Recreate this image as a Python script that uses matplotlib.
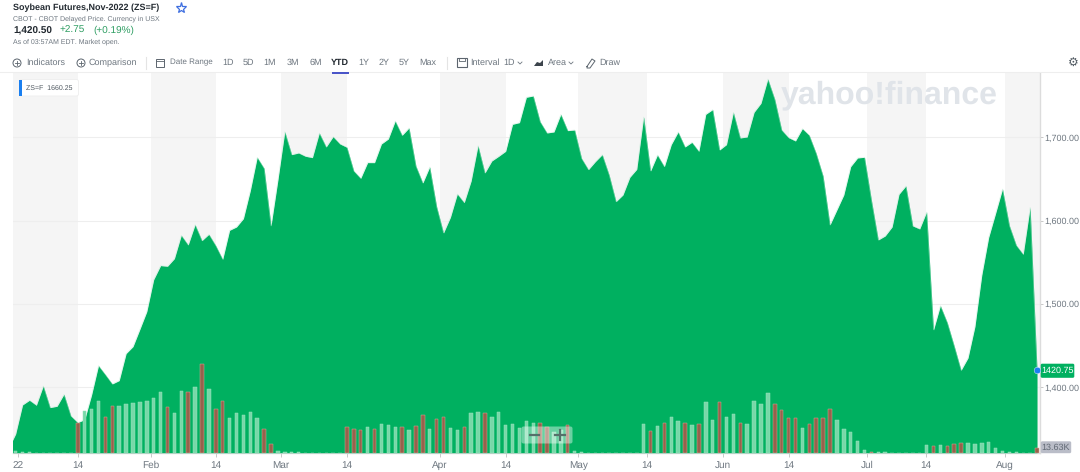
import matplotlib
matplotlib.use("Agg")
import matplotlib.pyplot as plt
from matplotlib.patches import Rectangle, FancyBboxPatch, Circle
import numpy as np

plt.rcParams['font.family'] = ['Liberation Sans', 'DejaVu Sans']
plt.rcParams['text.hinting'] = 'no_hinting'
plt.rcParams['text.hinting_factor'] = 1

price = [1327, 1344, 1378.8, 1384.4, 1378.4, 1401.6, 1375.6, 1377.2, 1391.6, 1365.6, 1357.6, 1361.2, 1390.8, 1426, 1415.2, 1404,
         1408, 1440.4, 1448.8, 1469.6, 1490.8, 1529.2, 1546, 1545.2, 1554.4, 1582.4, 1570.8, 1595.2, 1576, 1583.6, 1570, 1553.6,
         1588.4, 1592.4, 1602.4, 1636, 1676, 1662.8,
         1593.6, 1648.8, 1706.8, 1679.2, 1681.2, 1677.2, 1675.6, 1705.2, 1688.4, 1700.8, 1692, 1688, 1659.6, 1650.8, 1669.6, 1669.6,
         1692, 1698, 1719.6, 1702.4, 1711.2, 1665.6, 1645.2, 1664.4, 1616.8, 1585.2, 1604, 1632, 1621.6, 1647.6, 1690, 1657.2,
         1671.6, 1677.2, 1683.2, 1715.6, 1717.6, 1748,
         1749.6, 1718.8, 1705.2, 1706.4, 1727.6, 1708, 1708.8, 1674.8, 1661.2, 1670.8, 1679.2, 1654.8, 1622.8, 1630.8, 1652, 1661.6,
         1724.4, 1659.6, 1678.8, 1664.8, 1691.2, 1706.4, 1688.4, 1694, 1683.2, 1727.6, 1733.2, 1684.8, 1691.2, 1730, 1699.2, 1700.4,
         1730, 1740.8, 1770, 1745.6, 1708.8, 1699.6,
         1695.6, 1710.4, 1702.4, 1680.8, 1653.6, 1594.8, 1612.8, 1630.8, 1664.8, 1675.2, 1676, 1624.8, 1576.8, 1581.6, 1592.4, 1631.6,
         1641.6, 1593.6, 1590, 1610.4, 1468.8, 1498, 1477.6, 1449.6, 1420.4, 1435.2, 1472.8, 1534.8, 1580, 1608.8, 1638, 1594,
         1570.4, 1559.6, 1616, 1420.75]

volume = [0, 4.2, 2, 2, 0, 0, 0, 0, 0, 0,
          92.4, 132, 136.5, 164, 113, 147, 147, 152, 157.5, 158.5,
          162, 171, 192, 145, 126, 193, 191, 208, 279, 202,
          136.5, 162, 109, 124, 119, 127, 108, 74.5, 26, 5,
          2, 2, 2, 0, 0, 0, 0, 0, 0, 80,
          76, 71, 81, 75, 89, 87, 81, 80, 70, 83,
          118, 75, 105, 111, 77, 71, 81, 125, 128, 124,
          114, 128, 86, 89, 78, 99, 93, 92, 82, 65,
          71, 87, 4, 2, 0, 0, 0, 0, 0, 0,
          0, 0, 89, 69, 83, 92, 111, 100, 94.5, 86,
          89, 158.5, 102, 158.5, 114, 121, 94.5, 89, 162, 152,
          187, 152, 135, 108, 110, 77, 91, 108, 110, 139,
          102, 75, 64, 37, 7, 3, 1, 1, 0, 0,
          0, 0, 0, 25, 22, 23, 20, 26, 29, 29,
          27, 31.5, 32.5, 16, 4, 2, 2, 0, 0, 13.63]

down_days = [10, 14, 15, 23, 26, 28, 30, 31, 37, 38, 49, 50, 51, 53, 57, 59, 60, 62, 63, 66, 69, 77, 78, 81,
             93, 95, 98, 100, 103, 106, 111, 112, 113, 114, 116, 117, 118, 119, 125, 134, 136, 137, 138, 149]

x_tick_pos = [1.3, 10.03, 20.57, 30.03, 39.45, 49.0, 62.5, 72.0, 82.5, 92.5, 103.5, 113.07, 124.4, 132.9, 144.4]
x_tick_labels = ['22', '14', 'Feb', '14', 'Mar', '14', 'Apr', '14', 'May', '14', 'Jun', '14', 'Jul', '14', 'Aug']
y_ticks = [1400, 1500, 1600, 1700]
y_tick_labels = ['1,400.00', '1,500.00', '1,600.00', '1,700.00']

W, H = 1080, 472
GREEN = '#00b060'
GRAY = '#6e7780'
DARK = '#232a31'

fig = plt.figure(figsize=(W / 100, H / 100), dpi=100, facecolor='white')
L, R, T, B = 13, 1040, 73, 452.7
ax = fig.add_axes([L / W, 1 - B / H, (R - L) / W, (B - T) / H])
ax.set_xlim(0.61, 149.43)
ax.set_ylim(1321.5, 1777.2)

# volume axes share the frame; created first so the price axis keeps its right-hand ticks
axv = ax.twinx()
axv.set_ylim(0, 1196)
axv.axis('off')

# alternating shaded periods
edges = [x_tick_pos[0] - 1] + x_tick_pos[1:] + [149.43]
for k in range(0, len(edges) - 1, 2):
    ax.axvspan(edges[k], edges[k + 1], color='#f5f5f5', lw=0, zorder=0)

ax.grid(axis='y', color='#eeeeee', lw=0.8, zorder=1)
days = np.arange(len(price))
ax.fill_between(days, price, 1321.5, color=GREEN, lw=0, zorder=3)
ax.plot(days, price, color='#b8ead0', lw=0.4, zorder=3, alpha=.6)

for s in ['top', 'left']:
    ax.spines[s].set_visible(False)
    axv.spines[s].set_visible(False)
for s in ['bottom', 'right']:
    ax.spines[s].set_color('#dcdcdc')
    ax.spines[s].set_linewidth(1.0)
ax.yaxis.tick_right()
ax.set_yticks(y_ticks, y_tick_labels, fontsize=6.6, color='#6e7780')
ax.tick_params(axis='y', length=2, width=0.7, color='#c8c8c8', pad=1)
ax.set_xticks(x_tick_pos, x_tick_labels, fontsize=6.9, color='#6e7780')
ax.tick_params(axis='x', length=3, width=0.7, color='#c8c8c8', pad=3)
ax.set_axisbelow(True)

# volume bars
colors = ['#96624c' if i in down_days else '#78d8a8' for i in days]
edgecs = ['#d9a796' if i in down_days else '#98e2bd' for i in days]
axv.bar(days, volume, width=0.5, color=colors, edgecolor=edgecs, linewidth=0.35, zorder=4)

# interface overlay in pixel coordinates
ov = fig.add_axes([0, 0, 1, 1], facecolor='none')
ov.set_xlim(0, W)
ov.set_ylim(H, 0)
ov.axis('off')
ov.set_zorder(5)


def t(x, y, s, size=6.2, color=GRAY, weight='normal', ha='left', zorder=5):
    ov.text(x, y, s, fontsize=size, color=color, fontweight=weight, ha=ha, va='center', zorder=zorder)


t(13, 8, 'Soybean Futures,Nov-2022 (ZS=F)', 6.8, DARK, 'bold')
ov.plot([181], [8], marker='*', ms=8, mfc='none', mec='#3f6fe0', mew=0.9)
t(13, 18.5, 'CBOT - CBOT Delayed Price. Currency in USX', 4.95, GRAY)
t(13, 30.5, '1,420.50', 7.4, DARK, 'bold')
t(59.5, 30.5, '+2.75', 7.2, '#2f9e63')
t(93, 30.5, '(+0.19%)', 7.2, '#2f9e63')
t(13, 41.5, 'As of 03:57AM EDT. Market open.', 5.1, GRAY)


def circ_plus(x, y):
    ov.add_patch(Circle((x, y), 4, fc='none', ec='#5c656e', lw=0.7))
    ov.plot([x - 2, x + 2], [y, y], color='#5c656e', lw=0.6)
    ov.plot([x, x], [y - 2, y + 2], color='#5c656e', lw=0.6)


circ_plus(17, 63)
t(26, 62.7, 'Indicators')
circ_plus(81, 63)
t(89, 62.7, 'Comparison')
ov.plot([145.5, 145.5], [57, 69], color='#e4e4e4', lw=0.8)
ov.add_patch(Rectangle((156, 58.5), 8, 8, fc='none', ec='#5c656e', lw=0.7))
ov.plot([156, 164], [61, 61], color='#5c656e', lw=0.6)
t(169.5, 62.7, 'Date Range', 5.9)
for lab, xc in zip(['1D', '5D', '1M', '3M', '6M'], [227.6, 248.6, 270, 293, 315.5]):
    t(xc, 62.7, lab, ha='center')
t(340, 62.7, 'YTD', 6.2, DARK, 'bold', ha='center')
ov.add_patch(Rectangle((332, 72.3), 17, 1.5, fc='#4a55c8', ec='none', zorder=6))
for lab, xc in zip(['1Y', '2Y', '5Y', 'Max'], [363.5, 384, 404, 427.6]):
    t(xc, 62.7, lab, ha='center')
ov.plot([447, 447], [57, 69], color='#e4e4e4', lw=0.8)
ov.add_patch(Rectangle((457, 58), 10, 9, fc='none', ec='#5c656e', lw=0.8))
ov.plot([459, 459, 462, 462, 465, 465], [58, 60.5, 60.5, 60.5, 60.5, 58], color='#5c656e', lw=0.6)
t(470.5, 62.7, 'Interval')
t(509.5, 62.7, '1D', ha='center')
ov.plot([518, 520, 522], [62, 64, 62], color=GRAY, lw=0.6)
ov.fill([534, 537, 540, 543, 543, 534], [66, 62, 63, 60, 66, 66], color='#3c444c', lw=0)
t(548, 62.7, 'Area')
ov.plot([569, 571, 573], [62, 64, 62], color=GRAY, lw=0.6)
ov.plot([587, 592, 595, 590, 587, 587], [66.5, 59, 61, 68, 68, 66.5], color='#5c656e', lw=0.7)
t(599.5, 62.7, 'Draw')
t(1073, 62.7, '\u2699', 8.5, '#4f5860', ha='center')
ov.plot([0, W], [72.3, 72.3], color='#eeeeee', lw=0.8, zorder=1)

# watermark
t(781, 95, 'yahoo!finance', 22.9, '#e0e4e9', 'bold', zorder=1)

# legend chip
ov.add_patch(FancyBboxPatch((20, 80), 58, 15.5, boxstyle='round,pad=0.5,rounding_size=2', fc='white', ec='#eeeeee', lw=0.6))
ov.add_patch(Rectangle((19, 79.5), 2.5, 16.5, fc='#1a7ff0', ec='none', zorder=4))
t(25.5, 87.8, 'ZS=F  1660.25', 5.4, '#4f5860')

# zoom widget
ov.add_patch(FancyBboxPatch((522, 427), 50, 16, boxstyle='round,pad=0.5,rounding_size=2', fc='white', ec='none', alpha=.42))
ov.plot([530, 539], [435, 435], color='#55706a', lw=1.6)
ov.plot([555, 565], [435, 435], color='#55706a', lw=1.6)
ov.plot([560, 560], [430, 440], color='#55706a', lw=1.6)

# last price tags
ov.add_patch(FancyBboxPatch((1041, 364), 33, 13.5, boxstyle='round,pad=0.3,rounding_size=1.5', fc=GREEN, ec='none'))
t(1058, 370.5, '1420.75', 6.3, 'white', ha='center')
ov.plot([1037], [370], 'o', ms=4.8, color='#1a7ff0', mec='white', mew=0.3, zorder=6)
ov.add_patch(FancyBboxPatch((1041, 441.5), 30, 11.5, boxstyle='round,pad=0.2,rounding_size=1.5', fc='#babdc8', ec='none'))
t(1056, 447.5, '13.63K', 6.3, '#626a75', ha='center')

fig.savefig('out.png', dpi=100)
